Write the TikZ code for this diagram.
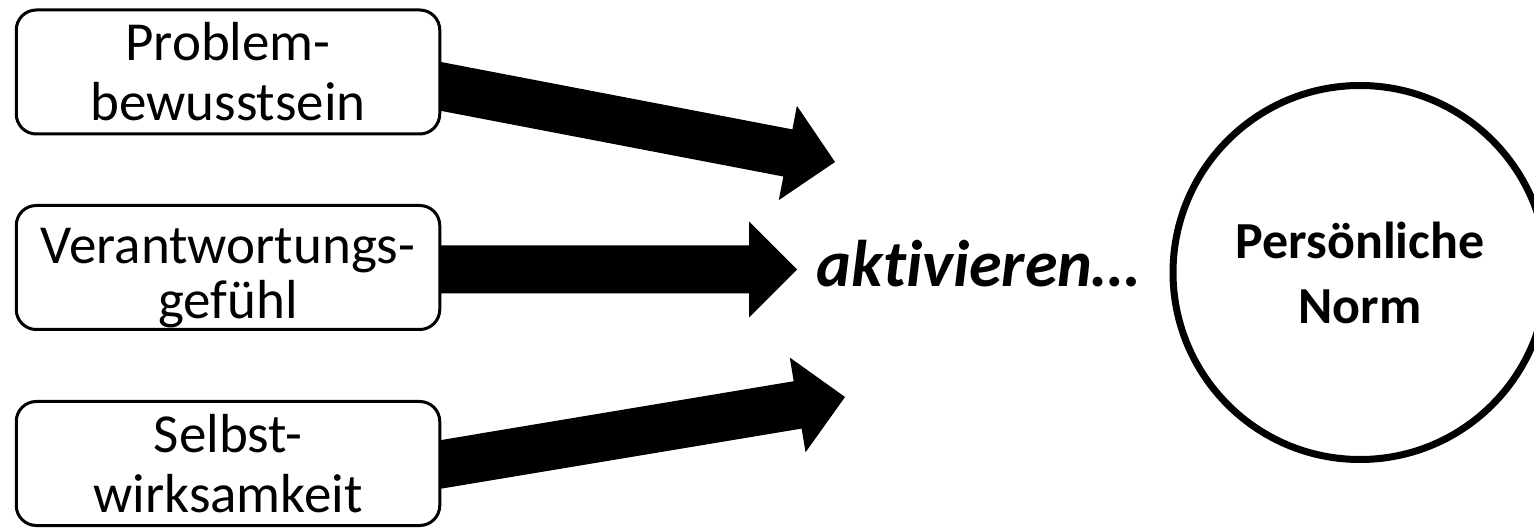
\documentclass[tikz,border=0pt]{standalone}
\usepackage{fontspec}
\setmainfont{Carlito}[Ligatures=NoCommon]
\usetikzlibrary{backgrounds}
\usetikzlibrary{calc}

% fat block arrow: shaft from #1, tip at #2
\newcommand{\fatarrow}[2]{%
  \coordinate (hb) at ($(#2)!24pt!(#1)$);
  \fill ($(#1)!12pt!90:(#2)$) -- ($(hb)!12pt!90:(#2)$) -- ($(hb)!24pt!90:(#2)$)
    -- (#2) -- ($(hb)!24pt!-90:(#2)$) -- ($(hb)!12pt!-90:(#2)$)
    -- ($(#1)!12pt!-90:(#2)$) -- cycle;}

\begin{document}
\begin{tikzpicture}[x=0.5pt,y=-0.5pt,
    box/.style={draw,line width=1.5pt,rounded corners=10pt,fill=white,
      minimum width=211.75pt,minimum height=62pt,inner sep=0pt,align=center,
      font=\fontsize{27.5}{30}\selectfont}]
        \useasboundingbox (0,0) rectangle (1534,528);
        \clip (0,0) rectangle (1534,528);

        \node[box] (pb) at (228,72) {Problem-\\bewusstsein};
        \node[box,font=\fontsize{27.5}{27.5}\selectfont] (vg) at (228,267.5)
        {\rule{0pt}{28pt}Verantwortungs-\\gefühl};
        \node[box] (sw) at (228,463.5) {Selbst-\\wirksamkeit};

        \node[anchor=base,font=\bfseries\itshape\fontsize{33}{40}\selectfont]
        (akt) at (978,287) {aktivieren…};

        \node[circle,draw,line width=3.5pt,minimum size=187pt,align=center,
        font=\bfseries\fontsize{26}{32.5}\selectfont] (pn) at (1360,272.5)
        {Persönliche\\Norm};

        % arrow tips
        \coordinate (t1) at (835,162);
        \coordinate (t2) at (797,269.5);
        \coordinate (t3) at (845,397);

        \begin{scope}[on background layer]
          \coordinate (a1) at ($(pb.east)+(-13,12)$);
          \coordinate (a2) at ($(vg.east)+(-13,2)$);
          \coordinate (a3) at ($(sw.east)+(-13,3)$);
          \fatarrow{a1}{t1}
          \fatarrow{a2}{t2}
          \fatarrow{a3}{t3}
        \end{scope}
      \end{tikzpicture}
\end{document}
